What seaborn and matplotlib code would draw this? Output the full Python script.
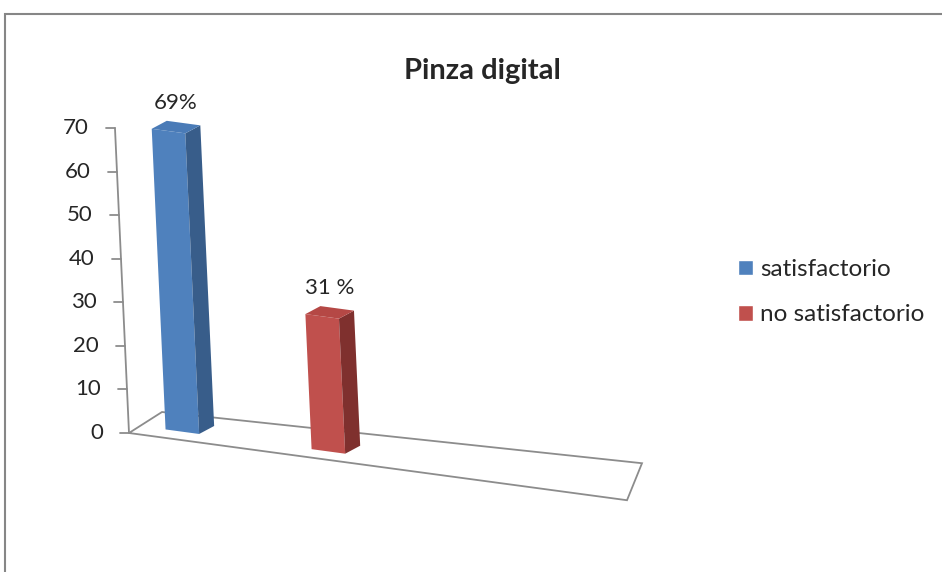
import numpy as np
import pandas as pd
import matplotlib
matplotlib.use("Agg")
import matplotlib.pyplot as plt
from matplotlib.transforms import Affine2D, IdentityTransform
from matplotlib.patches import Polygon, Rectangle
from matplotlib.lines import Line2D
import seaborn as sns

categorias = ["satisfactorio", "no satisfactorio"]
valores = [69, 31]
etiquetas = ["69%", "31 %"]
colores = ["#4F81BD", "#C0504D"]
colores_lado = ["#385D8A", "#7F302E"]
colores_tapa = ["#4A7BB7", "#B54845"]
ticks_y = [0, 10, 20, 30, 40, 50, 60, 70]
titulo = "Pinza digital"

sns.set_style("white")
plt.rcParams["font.family"] = ["Lato", "DejaVu Sans"]

W, H, DPI = 942, 572, 100
gris = "#8C8C8C"
fig = plt.figure(figsize=(W / DPI, H / DPI), dpi=DPI)

# marco del grafico (solo se ven borde superior e izquierdo)
fig.add_artist(Rectangle((5 / W, -0.1), 1.2, (H - 14) / H + 0.1, transform=fig.transFigure,
                         fill=False, edgecolor="#868686", lw=1.5))

ax = fig.add_axes([129 / W, 139 / H, 498 / W, 305 / H])
df = pd.DataFrame({"resultado": categorias, "valor": valores})
sns.barplot(data=df, x="resultado", y="valor", hue="resultado", palette=colores,
            width=0.23, saturation=1, legend=False, ax=ax)
barras = list(ax.patches)
ax.set_xlim(-0.29, 3.12)
ax.set_ylim(0, 70)
ax.set_axis_off()

# perspectiva falsa: cizalla en pixeles
X0, Y0 = ax.transAxes.transform((0, 0))
t, s = 0.046, 0.135
cizalla = Affine2D(np.array([[1, -t, t * Y0], [-s, 1, s * X0], [0, 0, 1]]))
tr_eje = ax.transData + cizalla
tr_barra = tr_eje + Affine2D().translate(11, 7)
ident = IdentityTransform()

# suelo
x_min, x_max = ax.get_xlim()
fl = tr_eje.transform((x_min, 0))
fr = tr_eje.transform((x_max, 0))
suelo = [fl, fr, fr + (15, 37), fl + (33, 21)]
ax.add_patch(Polygon(suelo, closed=True, fill=False, edgecolor=gris, lw=1.3,
                     transform=ident, clip_on=False, zorder=0.5))

# eje y
tope = tr_eje.transform((x_min, 70))
ax.add_line(Line2D([fl[0], tope[0]], [fl[1], tope[1]], color=gris, lw=1.3,
                   transform=ident, clip_on=False))
for y in ticks_y:
    p = tr_eje.transform((x_min, y))
    ax.add_line(Line2D([p[0] - 9, p[0]], [p[1], p[1]], color=gris, lw=1.3,
                       transform=ident, clip_on=False))
    ax.text(p[0] - 26, p[1], str(y), ha="right", va="center", fontsize=16,
            transform=ident)

# barras con caras laterales y tapa
prof = np.array([15, 8])
for i, barra in enumerate(barras):
    barra.set_transform(tr_barra)
    barra.set_clip_on(False)
    barra.set_edgecolor("none")
    xl = barra.get_x()
    xr = xl + barra.get_width()
    v = barra.get_height()
    a, b = tr_barra.transform((xr, 0)), tr_barra.transform((xr, v))
    ax.add_patch(Polygon([a, b, b + prof, a + prof], closed=True, facecolor=colores_lado[i],
                         edgecolor="none", transform=ident, clip_on=False, zorder=1))
    c = tr_barra.transform((xl, v))
    ax.add_patch(Polygon([c, b, b + prof, c + prof], closed=True, facecolor=colores_tapa[i],
                         edgecolor="none", transform=ident, clip_on=False, zorder=1))
    m = tr_barra.transform((xl + barra.get_width() / 2, v)) + prof / 2
    ax.text(m[0], m[1] + 24, etiquetas[i], ha="center", va="center", fontsize=16,
            transform=ident)

fig.text(482 / W, 1 - 79 / H, titulo, ha="center", va="baseline", fontsize=21,
         fontweight="bold")

manejadores = [Rectangle((0, 0), 1, 1, facecolor=c) for c in colores]
fig.legend(manejadores, categorias, loc="upper left", bbox_to_anchor=(738 / W, 1 - 259 / H),
           frameon=False, fontsize=17.5, handlelength=0.62, handleheight=0.62,
           handletextpad=0.3, labelspacing=1.0, borderpad=0, borderaxespad=0)

fig.savefig("out.png", dpi=DPI)
